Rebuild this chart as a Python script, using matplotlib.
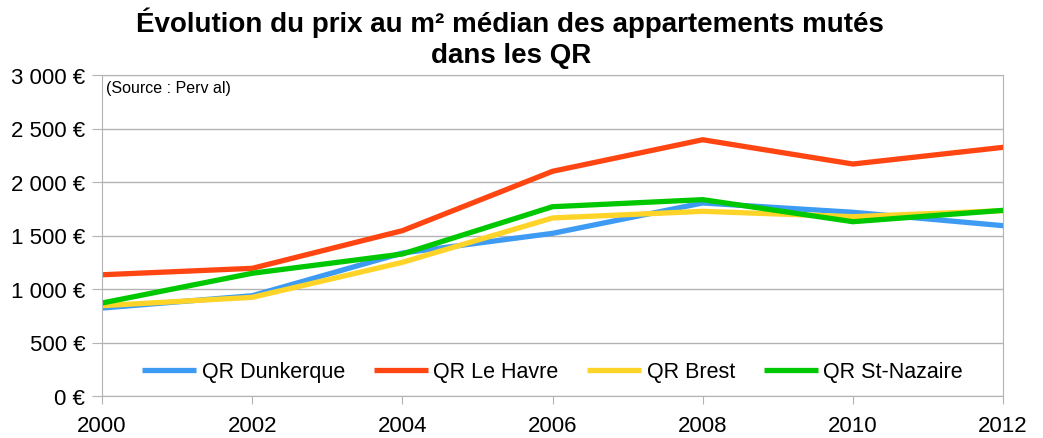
import matplotlib
matplotlib.use("Agg")
import matplotlib.pyplot as plt
from matplotlib.ticker import FuncFormatter

plt.rcParams['font.family'] = ['Liberation Sans', 'DejaVu Sans']

years = [2000, 2002, 2004, 2006, 2008, 2010, 2012]
dunkerque = [822, 937, 1336, 1520, 1804, 1717, 1592]
le_havre = [1133, 1193, 1545, 2100, 2395, 2168, 2324]
brest = [844, 922, 1249, 1664, 1726, 1676, 1732]
st_nazaire = [869, 1147, 1327, 1769, 1835, 1629, 1735]

series = [
    ("QR Dunkerque", dunkerque, "#3d9bf4"),
    ("QR Le Havre", le_havre, "#ff4511"),
    ("QR Brest", brest, "#ffd428"),
    ("QR St-Nazaire", st_nazaire, "#00c800"),
]

fig = plt.figure(figsize=(10.43, 4.39), dpi=100)
ax = fig.add_axes([102 / 1043, 1 - 397 / 439, 901 / 1043, 321 / 439])

for name, vals, col in series:
    ax.plot(years, vals, color=col, lw=3.8, label=name)

ax.set_xlim(2000, 2012)
ax.set_ylim(0, 3000)
ax.set_xticks(years)
ax.set_yticks(range(0, 3001, 500))
ax.yaxis.set_major_formatter(FuncFormatter(lambda v, p: f"{int(v):,}".replace(",", " ") + " €"))
ax.grid(axis='y', color='#b3b3b3', lw=1)
ax.set_axisbelow(True)
for s in ax.spines.values():
    s.set_color('#b3b3b3')
ax.tick_params(axis='both', colors='#b3b3b3', labelcolor='black', labelsize=16)
ax.tick_params(axis='y', length=7, pad=5)
ax.tick_params(axis='x', length=6, pad=8)

ax.text(0.004, 0.985, "(Source : Perv al)", transform=ax.transAxes, fontsize=11.5, va='top')

leg = ax.legend(loc='center', bbox_to_anchor=(0.5, 0.075), ncol=4, frameon=False,
                fontsize=15.5, handlelength=2.5, columnspacing=1.35, handletextpad=0.25)
for h in leg.get_lines():
    h.set_solid_capstyle('butt')

fig.text(510 / 1043, 1 - 32 / 439, "Évolution du prix au m² médian des appartements mutés",
         ha='center', va='baseline', fontsize=20, fontweight='bold')
fig.text(511 / 1043, 1 - 63 / 439, "dans les QR",
         ha='center', va='baseline', fontsize=20, fontweight='bold')

fig.savefig("out.png", dpi=100)
